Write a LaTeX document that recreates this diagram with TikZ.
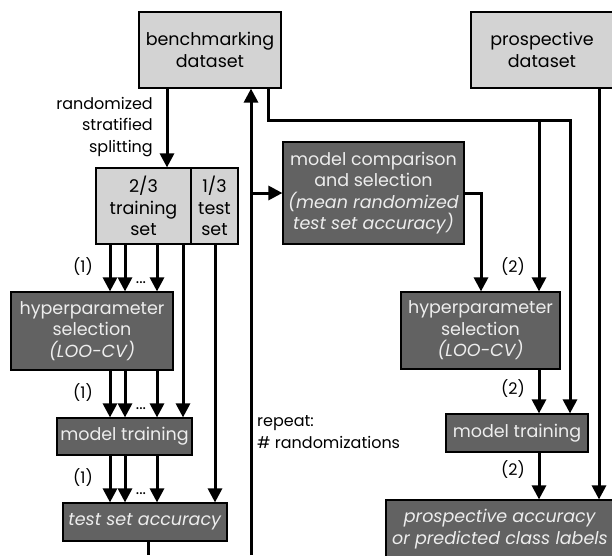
\documentclass[tikz,border=0pt]{standalone}
\usepackage{fontspec}
\setmainfont{Poppins}
\usetikzlibrary{arrows.meta,positioning}
\definecolor{boxlight}{HTML}{D3D3D3}
\definecolor{boxdark}{HTML}{626262}
\definecolor{txtlight}{HTML}{EDEDED}
\tikzset{
  lightbox/.style={draw=black, line width=1.2pt, fill=boxlight, align=center,
    inner sep=0pt, font=\fontsize{17.5}{21.5}\selectfont},
  darkbox/.style={draw=black, line width=1.2pt, fill=boxdark, text=txtlight,
    align=center, inner sep=0pt, font=\fontsize{17.5}{21.5}\selectfont},
  flow/.style={line width=3pt, -{Triangle[width=14pt,length=14pt]}},
  wire/.style={line width=3pt},
  tag/.style={inner sep=0pt, font=\fontsize{16}{21.5}\selectfont}
}

\begin{document}
\begin{tikzpicture}[x=1pt, y=-1pt]
  \useasboundingbox (0,0) rectangle (612,555);
  % boxes
  \node [lightbox, minimum width=142pt, minimum height=76pt] (bench) at (210,50) {benchmarking\\dataset};
  \node [lightbox, minimum width=142pt, minimum height=76pt] (prosp) at (542,50) {prospective\\dataset};
  \node [lightbox, minimum width=95pt, minimum height=76pt] (train) at (143.5,206) {2/3\\training\\set};
  \node [lightbox, minimum width=47pt, minimum height=76pt] (test) at (214.5,206) {1/3\\test\\set};
  \node [darkbox, minimum width=181pt, minimum height=102pt] (comp) at (373.5,193) {model comparison\\and selection\\\textit{(mean randomized}\\\textit{test set accuracy)}};
  \node [darkbox, minimum width=162pt, minimum height=78pt] (hypL) at (92,331) {hyperparameter\\selection\\\textit{(LOO-CV)}};
  \node [darkbox, minimum width=135pt, minimum height=37pt] (trainL) at (124.5,436.5) {model training};
  \node [darkbox, minimum width=164pt, minimum height=38pt] (accL) at (145,522) {\textit{test set accuracy}};
  \node [darkbox, minimum width=159pt, minimum height=77pt] (hypR) at (480.5,330.5) {hyperparameter\\selection\\\textit{(LOO-CV)}};
  \node [darkbox, minimum width=142pt, minimum height=38pt] (trainR) at (517,433) {model training};
  \node [darkbox, minimum width=228pt, minimum height=58pt] (accR) at (500,529) {\textit{prospective accuracy}\\\textit{or predicted class labels}};

  % labels
  \node [tag, align=right, anchor=east] (split) at (153,127) {randomized\\stratified\\splitting};
  \node [tag, align=left, anchor=west] (rep) at (257,432) {repeat:\\\# randomizations};
  \node [tag] (oneA) at (83,267) {(1)};
  \node [tag] (oneB) at (83,393) {(1)};
  \node [tag] (oneC) at (83,478) {(1)};
  \node [tag] (twoA) at (513,267) {(2)};
  \node [tag] (twoB) at (513,389) {(2)};
  \node [tag] (twoC) at (513,470) {(2)};
  \node [tag] (dotA) at (141,283) {...};
  \node [tag] (dotB) at (141,409) {...};
  \node [tag] (dotC) at (141,494) {...};

  % lanes
  \coordinate (la) at (110,0);
  \coordinate (lb) at (125,0);
  \coordinate (lc) at (157,0);
  \coordinate (ld) at (183,0);
  \coordinate (le) at (215,0);
  \coordinate (lsplit) at (167,0);
  \coordinate (ltop) at (268,0);
  \coordinate (lsel) at (481,0);
  \coordinate (lbest) at (539,0);
  \coordinate (bar) at (570,120);
  \coordinate (lpro) at (599,0);
  \coordinate (loopend) at (251,555);
  \coordinate (accend) at (148,555);

  % left column
  \draw [flow] (bench.south -| lsplit) -- (train.north -| lsplit);
  \foreach \l in {la,lb,lc} {
    \draw [flow] (train.south -| \l) -- (hypL.north -| \l);
    \draw [flow] (hypL.south -| \l) -- (trainL.north -| \l);
    \draw [flow] (trainL.south -| \l) -- (accL.north -| \l);
  }
  \draw [flow] (train.south -| ld) -- (trainL.north -| ld);
  \draw [flow] (test.south -| le) -- (accL.north -| le);
  \draw [wire] (accL.south -| accend) -- (accend);

  % repeat loop
  \draw [flow] (loopend) -- (bench.south -| loopend);
  \draw [flow] (comp.west -| loopend) -- (comp.west);

  % right column
  \draw [flow] (bench.south -| ltop) |- (bar) -- (trainR.north -| bar);
  \draw [flow] (bar -| lbest) -- (hypR.north -| lbest);
  \draw [flow] (comp.east) -| (hypR.north -| lsel);
  \draw [flow] (hypR.south -| lbest) -- (trainR.north -| lbest);
  \draw [flow] (trainR.south -| lbest) -- (accR.north -| lbest);
  \draw [flow] (prosp.south -| lpro) -- (accR.north -| lpro);
\end{tikzpicture}
\end{document}
